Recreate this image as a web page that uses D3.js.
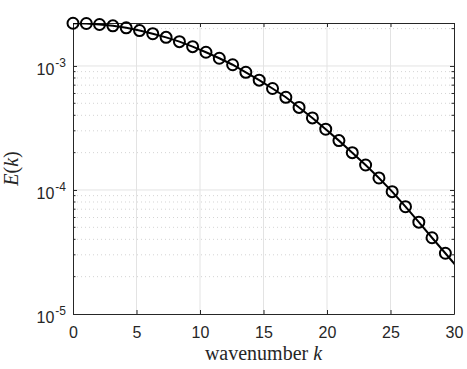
<!DOCTYPE html>
<html>
<head>
<meta charset="utf-8">
<script src="https://cdn.jsdelivr.net/npm/d3@7"></script>
<style>
  body { margin: 0; background: #fff; }
  svg { display: block; }
</style>
</head>
<body>
<svg id="chart" width="467" height="369"></svg>
<script>
// wavenumbers of the markers
var kVals = [0, 1.05, 2.09, 3.14, 4.19, 5.24, 6.28, 7.33, 8.38, 9.42,
  10.47, 11.52, 12.57, 13.61, 14.66, 15.71, 16.76, 17.80, 18.85, 19.90,
  20.94, 21.99, 23.04, 24.09, 25.13, 26.18, 27.23, 28.27, 29.32];
// spectrum E(k)
var eVals = [2.21e-3, 2.20e-3, 2.16e-3, 2.105e-3, 2.03e-3, 1.93e-3, 1.82e-3, 1.70e-3, 1.57e-3, 1.43e-3,
  1.29e-3, 1.154e-3, 1.023e-3, 8.89e-4, 7.68e-4, 6.58e-4, 5.59e-4, 4.63e-4, 3.81e-4, 3.09e-4,
  2.50e-4, 2.00e-4, 1.59e-4, 1.25e-4, 9.69e-5, 7.33e-5, 5.50e-5, 4.12e-5, 3.09e-5];
// line continues past the last marker to the axis edge
var lineEndK = 30.37;
var lineEndE = 2.31e-5;

var xTicks = [0, 5, 10, 15, 20, 25, 30];
var yTicks = [1e-5, 1e-4, 1e-3];
var yExp = ["-5", "-4", "-3"];

var margin = { top: 23, right: 13, bottom: 55, left: 73 },
  W = 467, H = 369,
  w = W - margin.left - margin.right,
  h = H - margin.top - margin.bottom;

var svg = d3.select("#chart");
var g = svg.append("g").attr("transform", `translate(${margin.left},${margin.top})`);

var x = d3.scaleLinear().domain([0, 30]).range([0, w]);
var y = d3.scaleLog().domain([1e-5, 2.22e-3]).range([h, 0]);

var axCol = "#262626";

// minor y grid (dotted)
var minor = [];
[1e-5, 1e-4, 1e-3].forEach(function (d) {
  for (var m = 2; m <= 9; m++) { if (d * m <= 2.22e-3) minor.push(d * m); }
});
g.selectAll(".minor").data(minor).join("line").attr("class", "minor")
  .attr("x1", 0).attr("x2", w)
  .attr("y1", d => y(d)).attr("y2", d => y(d))
  .attr("stroke", "#d4d4d4").attr("stroke-width", 1).attr("stroke-dasharray", "1,3");

// major grid
g.selectAll(".gx").data(xTicks.slice(1, -1)).join("line").attr("class", "gx")
  .attr("x1", d => x(d)).attr("x2", d => x(d)).attr("y1", 0).attr("y2", h)
  .attr("stroke", "#e3e3e3").attr("stroke-width", 1);
g.selectAll(".gy").data(yTicks.slice(1)).join("line").attr("class", "gy")
  .attr("x1", 0).attr("x2", w).attr("y1", d => y(d)).attr("y2", d => y(d))
  .attr("stroke", "#e3e3e3").attr("stroke-width", 1);

// axes
var xAx = g.append("g").attr("transform", `translate(0,${h})`)
  .call(d3.axisBottom(x).tickValues(xTicks).tickSizeInner(-4).tickSizeOuter(0).tickPadding(13).tickFormat(d3.format("d")));
var xTop = g.append("g")
  .call(d3.axisTop(x).tickValues(xTicks).tickSizeInner(-4).tickSizeOuter(0).tickFormat(""));
var yAx = g.append("g")
  .call(d3.axisLeft(y).tickValues(yTicks).tickSizeInner(-4).tickSizeOuter(0).tickFormat(""));
var yRight = g.append("g").attr("transform", `translate(${w},0)`)
  .call(d3.axisRight(y).tickValues(yTicks).tickSizeInner(-4).tickSizeOuter(0).tickFormat(""));
// minor ticks
g.selectAll(".mtl").data(minor).join("line").attr("class", "mtl")
  .attr("x1", 0).attr("x2", 2.5).attr("y1", d => y(d)).attr("y2", d => y(d))
  .attr("stroke", axCol);
g.selectAll(".mtr").data(minor).join("line").attr("class", "mtr")
  .attr("x1", w - 2.5).attr("x2", w).attr("y1", d => y(d)).attr("y2", d => y(d))
  .attr("stroke", axCol);

[xAx, xTop, yAx, yRight].forEach(function (a) {
  a.select(".domain").attr("stroke", axCol);
  a.selectAll(".tick line").attr("stroke", axCol);
});
xAx.selectAll(".tick text").attr("fill", axCol)
  .style("font-family", "'Liberation Sans', Arial, sans-serif").style("font-size", "16px");

// y tick labels 10^n
yTicks.forEach(function (d, i) {
  var t = g.append("text").attr("x", -11).attr("y", y(d) + 9)
    .attr("text-anchor", "end").attr("fill", axCol)
    .style("font-family", "'Liberation Sans', Arial, sans-serif").style("font-size", "16px");
  t.append("tspan").text("10");
  t.append("tspan").attr("dx", 1).attr("dy", -8).style("font-size", "12px").text(yExp[i]);
  // shift so superscript sits right of "10"
  var bb = t.node().getBBox();
  t.attr("x", -7 - 0).attr("text-anchor", "end");
});

// line (clipped to axes)
svg.append("clipPath").attr("id", "clip").append("rect").attr("width", w).attr("height", h);
var lineData = kVals.map((k, i) => [k, eVals[i]]).concat([[lineEndK, lineEndE]]);
g.append("path").datum(lineData)
  .attr("clip-path", "url(#clip)")
  .attr("fill", "none").attr("stroke", "#000").attr("stroke-width", 2)
  .attr("d", d3.line().x(d => x(d[0])).y(d => y(d[1])));

// markers
g.selectAll(".pt").data(kVals).join("circle").attr("class", "pt")
  .attr("cx", d => x(d)).attr("cy", (d, i) => y(eVals[i])).attr("r", 5.5)
  .attr("fill", "none").attr("stroke", "#000").attr("stroke-width", 2);

// axis labels
var xl = svg.append("text").attr("x", margin.left + w / 2).attr("y", 360)
  .attr("text-anchor", "middle").attr("fill", "#262626")
  .style("font-family", "'Liberation Serif', 'Times New Roman', serif").style("font-size", "20px");
xl.append("tspan").text("wavenumber ");
xl.append("tspan").style("font-style", "italic").text("k");

var yl = svg.append("text").attr("transform", `translate(18,${margin.top + h / 2}) rotate(-90)`)
  .attr("text-anchor", "middle").attr("fill", "#262626")
  .style("font-family", "'Liberation Serif', 'Times New Roman', serif").style("font-size", "20px");
yl.append("tspan").style("font-style", "italic").text("E");
yl.append("tspan").text("(");
yl.append("tspan").style("font-style", "italic").text("k");
yl.append("tspan").text(")");
</script>
</body>
</html>
